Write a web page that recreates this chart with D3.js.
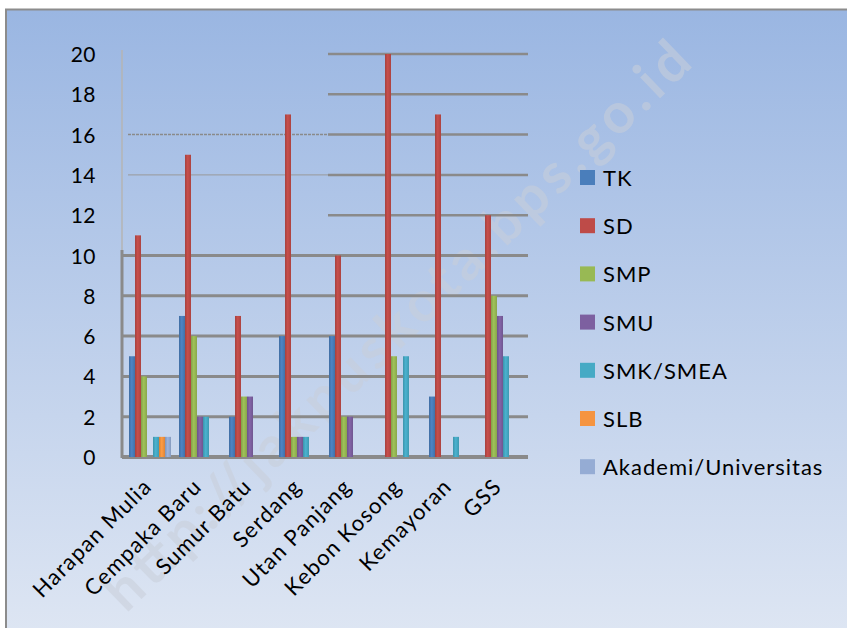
<!DOCTYPE html>
<html><head><meta charset="utf-8">
<script src="https://cdn.jsdelivr.net/npm/d3@7/dist/d3.min.js"></script>
<style>body{margin:0;background:#fff;}svg{display:block;font-family:Lato,"Open Sans",sans-serif;}</style>
</head><body>
<script>
const categories = ["Harapan Mulia","Cempaka Baru","Sumur Batu","Serdang","Utan Panjang","Kebon Kosong","Kemayoran","GSS"];
const seriesNames = ["TK","SD","SMP","SMU","SMK/SMEA","SLB","Akademi/Universitas"];
const TK   = [5, 7, 2, 6, 6, 0, 3, 0];
const SD   = [11, 15, 7, 17, 10, 20, 17, 12];
const SMP  = [4, 6, 3, 1, 2, 5, 0, 8];
const SMU  = [0, 2, 3, 1, 2, 0, 0, 7];
const SMK  = [1, 2, 0, 1, 0, 5, 1, 5];
const SLB  = [1, 0, 0, 0, 0, 0, 0, 0];
const AKAD = [1, 0, 0, 0, 0, 0, 0, 0];
const yTicks = [0,2,4,6,8,10,12,14,16,18,20];
const colors = ["#4a7ebb","#be4b48","#98b954","#7d60a0","#46aac5","#f59440","#95acd4"];
const seriesValues = [TK, SD, SMP, SMU, SMK, SLB, AKAD];

const W = 847, H = 628;
const svg = d3.select("body").append("svg").attr("width", W).attr("height", H);
const defs = svg.append("defs");
const bg = defs.append("linearGradient").attr("id","bg").attr("x1",0).attr("y1",0).attr("x2",0).attr("y2",1);
bg.append("stop").attr("offset","0%").attr("stop-color","#9ab6e2");
bg.append("stop").attr("offset","100%").attr("stop-color","#dee6f3");
colors.forEach((c,i)=>{
  const g = defs.append("linearGradient").attr("id","g"+i).attr("x1",0).attr("y1",0).attr("x2",1).attr("y2",0);
  g.append("stop").attr("offset","0%").attr("stop-color", d3.color(c).darker(0.4));
  g.append("stop").attr("offset","45%").attr("stop-color", d3.color(c).brighter(0.15));
  g.append("stop").attr("offset","100%").attr("stop-color", d3.color(c).darker(0.3));
});

svg.append("rect").attr("x",6).attr("y",9.5).attr("width",W).attr("height",H).attr("fill","url(#bg)")
  .attr("stroke","#8c8c8c").attr("stroke-width",2);

const x = d3.scaleBand().domain(categories).range([122, 522]).paddingInner(0).paddingOuter(0);
const xs = d3.scaleBand().domain(seriesNames).range([7, 49]).paddingInner(0);
const y = d3.scaleLinear().domain([0,20]).range([457, 54]);

// watermark
svg.append("text").attr("transform","translate(126,614) rotate(-44)")
  .attr("font-size",56).attr("font-weight","bold").attr("fill","#c9cfda").attr("opacity",0.55)
  .attr("font-family","Lato, sans-serif").attr("textLength",790)
  .text("http://jakpuskota.bps.go.id");

// gridlines
const grid = svg.append("g");
yTicks.forEach(t=>{
  if (t <= 10) {
    grid.append("line").attr("x1",122).attr("x2",528).attr("y1",y(t)).attr("y2",y(t))
      .attr("stroke","#8a8a8a").attr("stroke-width", t===0?4:3);
  } else {
    grid.append("line").attr("x1",328).attr("x2",528).attr("y1",y(t)).attr("y2",y(t))
      .attr("stroke","#8a8a8a").attr("stroke-width",2.5);
    if (t===16) grid.append("line").attr("x1",128).attr("x2",328).attr("y1",y(t)).attr("y2",y(t))
      .attr("stroke","#8a8a8a").attr("stroke-width",1.5).attr("stroke-dasharray","3,1");
    if (t===14) grid.append("line").attr("x1",128).attr("x2",328).attr("y1",y(t)).attr("y2",y(t))
      .attr("stroke","#999").attr("stroke-width",1);
  }
});
// y axis line
svg.append("line").attr("x1",122).attr("x2",122).attr("y1",50).attr("y2",457).attr("stroke","#b4b4b4").attr("stroke-width",1.5);
svg.append("line").attr("x1",122).attr("x2",122).attr("y1",250).attr("y2",458).attr("stroke","#8a8a8a").attr("stroke-width",3);

// bars
const bars = svg.append("g");
seriesValues.forEach((vals,si)=>{
  bars.selectAll(null).data(categories.map((c,ci)=>({c, v: vals[ci]})).filter(d=>d.v>0))
    .enter().append("rect")
    .attr("x", d=> x(d.c) + xs(seriesNames[si]))
    .attr("width", xs.bandwidth())
    .attr("y", d=> y(d.v))
    .attr("height", d=> y(0) - y(d.v))
    .attr("fill","url(#g"+si+")");
});

// y labels
svg.append("g").selectAll("text").data(yTicks).enter().append("text")
  .attr("x",96).attr("y",d=>y(d)+8).attr("text-anchor","end")
  .attr("font-size",21).attr("letter-spacing","0.5px").attr("fill","#000").text(d=>d);

// x labels
svg.append("g").selectAll("text").data(categories).enter().append("text")
  .attr("transform", d=>`translate(${x(d)+x.bandwidth()/2+6},${488}) rotate(-45)`)
  .attr("text-anchor","end").attr("font-size",22).attr("letter-spacing","1.2px").attr("fill","#000").text(d=>d);

// legend
const lg = svg.append("g");
seriesNames.forEach((n,i)=>{
  const yy = 178 + i*48.2;
  lg.append("rect").attr("x",580).attr("y",yy-8).attr("width",15).attr("height",15).attr("fill",colors[i]);
  lg.append("text").attr("x",603).attr("y",yy+8).attr("font-size",22).attr("letter-spacing","1px").attr("fill","#000").text(n);
});
</script>
</body></html>
